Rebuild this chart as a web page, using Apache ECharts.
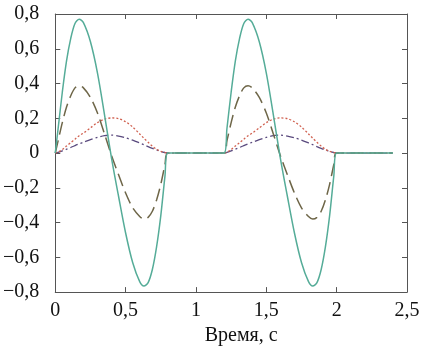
<!DOCTYPE html>
<html>
<head>
<meta charset="utf-8">
<script src="https://cdn.jsdelivr.net/npm/echarts@6/dist/echarts.min.js"></script>
<style>
html, body { margin: 0; padding: 0; background: #fff; }
#main { width: 428px; height: 351px; }
</style>
</head>
<body>
<div id="main"></div>
<script>
// one active period (0 .. 0.8 s); it repeats at 1.2 s
const cycleTime = [0, 0.02, 0.05, 0.08, 0.11, 0.14, 0.17, 0.2, 0.25, 0.3, 0.35, 0.4,
	0.45, 0.5, 0.55, 0.6, 0.63, 0.66, 0.69, 0.72, 0.75, 0.78, 0.8];
const solidVals = [0, 0.14, 0.35, 0.53, 0.66, 0.745, 0.77, 0.75, 0.64, 0.46, 0.22, -0.03,
	-0.25, -0.46, -0.63, -0.74, -0.765, -0.745, -0.67, -0.54, -0.36, -0.13, 0];
const dashedVals = [0, 0.07, 0.175, 0.265, 0.33, 0.375, 0.387, 0.375, 0.32, 0.23, 0.11, -0.015,
	-0.125, -0.23, -0.315, -0.365, -0.38, -0.37, -0.335, -0.27, -0.18, -0.065, 0];
const dottedVals = [0, 0.005, 0.02, 0.04, 0.06, 0.08, 0.1, 0.115, 0.145, 0.175, 0.195, 0.202,
	0.198, 0.18, 0.15, 0.11, 0.085, 0.062, 0.04, 0.022, 0.01, 0.003, 0];
const dashDotVals = [0, 0.004, 0.012, 0.022, 0.032, 0.043, 0.053, 0.062, 0.077, 0.09, 0.1, 0.103,
	0.098, 0.088, 0.074, 0.058, 0.048, 0.037, 0.027, 0.018, 0.009, 0.003, 0];
const cycleStarts = [0, 1.2];
const endTime = 2.4;

function buildSeries(vals) {
	let pts = [];
	cycleStarts.forEach(function(s, k) {
		cycleTime.forEach(function(t, i) {
			pts.push([+(s + t).toFixed(3), vals[i]]);
		});
		let next = k + 1 < cycleStarts.length ? cycleStarts[k + 1] : endTime;
		pts.push([next, 0]); // flat pause between pulses
	});
	return pts;
}

function fmt(v) {
	let s = String(+v.toFixed(2)).replace('.', ',');
	return s.replace('-', '\u2212');
}

let myChart = echarts.init(document.getElementById('main'));
const serif = "'Times New Roman', 'Liberation Serif', Tinos, 'DejaVu Serif', serif";
const frame = '#555';
let tickSide = {
	show: true,
	inside: true,
	length: 5,
	lineStyle: { color: frame, width: 1 }
};
let option = {
	animation: false,
	backgroundColor: '#fff',
	grid: { left: 55, right: 21, top: 14, bottom: 55 },
	xAxis: [{
		type: 'value',
		min: 0,
		max: 2.5,
		interval: 0.5,
		name: 'Время, с',
		nameLocation: 'middle',
		nameGap: 33,
		nameTextStyle: { fontFamily: serif, fontSize: 20, color: '#111', padding: [0, 0, 0, 20] },
		axisLine: { show: true, onZero: false, lineStyle: { color: frame, width: 1 } },
		axisTick: tickSide,
		splitLine: { show: false },
		axisLabel: { fontFamily: serif, fontSize: 20, color: '#111', margin: 9, formatter: fmt }
	}, {
		type: 'value',
		position: 'top',
		min: 0,
		max: 2.5,
		interval: 0.5,
		axisLine: { show: true, onZero: false, lineStyle: { color: frame, width: 1 } },
		axisTick: tickSide,
		splitLine: { show: false },
		axisLabel: { show: false }
	}],
	yAxis: [{
		type: 'value',
		min: -0.8,
		max: 0.8,
		interval: 0.2,
		axisLine: { show: true, onZero: false, lineStyle: { color: frame, width: 1 } },
		axisTick: tickSide,
		splitLine: { show: false },
		axisLabel: { fontFamily: serif, fontSize: 20, color: '#111', margin: 16, formatter: fmt }
	}, {
		type: 'value',
		position: 'right',
		min: -0.8,
		max: 0.8,
		interval: 0.2,
		axisLine: { show: true, onZero: false, lineStyle: { color: frame, width: 1 } },
		axisTick: tickSide,
		splitLine: { show: false },
		axisLabel: { show: false }
	}],
	series: [{
		name: 'dashDot',
		type: 'line',
		data: buildSeries(dashDotVals),
		smooth: 0.3,
		symbol: 'none',
		lineStyle: { color: '#5a4a7e', width: 1.3, type: [8, 3, 2, 3] }
	}, {
		name: 'dotted',
		type: 'line',
		data: buildSeries(dottedVals),
		smooth: 0.3,
		symbol: 'none',
		lineStyle: { color: '#d0604f', width: 1.3, type: [2, 2] }
	}, {
		name: 'dashed',
		type: 'line',
		data: buildSeries(dashedVals),
		smooth: 0.3,
		symbol: 'none',
		lineStyle: { color: '#6e6648', width: 1.5, type: [13, 6] }
	}, {
		name: 'solid',
		type: 'line',
		data: buildSeries(solidVals),
		smooth: 0.3,
		symbol: 'none',
		lineStyle: { color: '#55ac98', width: 1.5 }
	}]
};
myChart.setOption(option);
</script>
</body>
</html>
